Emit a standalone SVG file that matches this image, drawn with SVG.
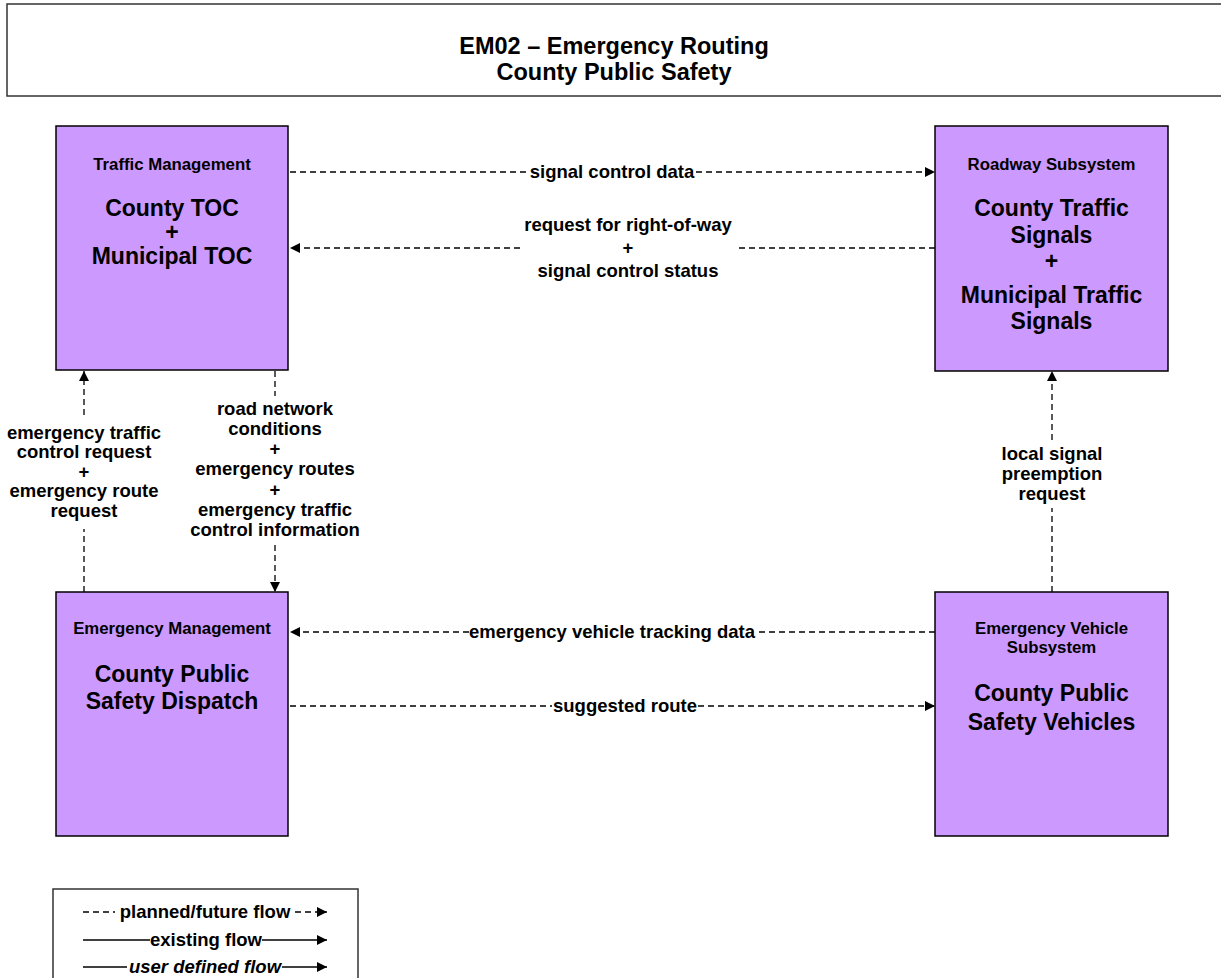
<svg xmlns="http://www.w3.org/2000/svg" width="1221" height="978" viewBox="0 0 1221 978">
  <defs>
    <marker id="arrow" viewBox="0 0 10 10" refX="10" refY="5" markerWidth="10" markerHeight="10" markerUnits="userSpaceOnUse" orient="auto">
      <path d="M0,0 L10,5 L0,10 Z" fill="#000"/>
    </marker>
    <style>
      .bg { fill: #fff; }
      .frame { fill: #fff; stroke: #333; stroke-width: 1.5; }
      .node { fill: #CC99FF; stroke: #000; stroke-width: 1.5; }
      text { font-family: "Liberation Sans", Arial, sans-serif; font-weight: bold; fill: #000; text-anchor: middle; }
      .title { font-size: 23.5px; }
      .kind { font-size: 16.8px; }
      .name { font-size: 23px; }
      .lbl { font-size: 18.5px; }
      .flow { fill: none; stroke: #000; stroke-width: 1.3; stroke-dasharray: 6 4; }
      .solid { fill: none; stroke: #000; stroke-width: 1.3; }
      .it { font-style: italic; }
    </style>
  </defs>

  <rect class="bg" x="0" y="0" width="1221" height="978"/>

  <!-- heading banner -->
  <g id="title">
    <rect class="frame" x="7" y="4" width="1220" height="92"/>
    <text class="title" x="614" y="54">EM02 – Emergency Routing</text>
    <text class="title" x="614" y="80">County Public Safety</text>
  </g>

  <!-- connectors -->
  <g id="connectors">
    <!-- signal control data -->
    <line class="flow" x1="290" y1="172" x2="528" y2="172"/>
    <line class="flow" x1="696" y1="172" x2="935" y2="172" marker-end="url(#arrow)"/>
    <text class="lbl" x="612" y="178">signal control data</text>

    <!-- request for right-of-way + signal control status -->
    <line class="flow" x1="935" y1="248" x2="735" y2="248"/>
    <line class="flow" x1="520" y1="248" x2="290" y2="248" marker-end="url(#arrow)"/>
    <text class="lbl" x="628" y="231">request for right-of-way</text>
    <text class="lbl" x="628" y="254">+</text>
    <text class="lbl" x="628" y="277">signal control status</text>

    <!-- dispatch to TOC requests -->
    <line class="flow" x1="84" y1="592" x2="84" y2="529"/>
    <line class="flow" x1="84" y1="415" x2="84" y2="371" marker-end="url(#arrow)"/>
    <text class="lbl" x="84" y="438.5">emergency traffic</text>
    <text class="lbl" x="84" y="458">control request</text>
    <text class="lbl" x="84" y="477.5">+</text>
    <text class="lbl" x="84" y="497">emergency route</text>
    <text class="lbl" x="84" y="516.5">request</text>

    <!-- TOC to dispatch information -->
    <line class="flow" x1="275" y1="371" x2="275" y2="396"/>
    <line class="flow" x1="275" y1="545" x2="275" y2="592" marker-end="url(#arrow)"/>
    <text class="lbl" x="275" y="414.5">road network</text>
    <text class="lbl" x="275" y="434.8">conditions</text>
    <text class="lbl" x="275" y="455.1">+</text>
    <text class="lbl" x="275" y="475.4">emergency routes</text>
    <text class="lbl" x="275" y="495.7">+</text>
    <text class="lbl" x="275" y="516">emergency traffic</text>
    <text class="lbl" x="275" y="536.3">control information</text>

    <!-- local signal preemption request -->
    <line class="flow" x1="1052" y1="592" x2="1052" y2="508"/>
    <line class="flow" x1="1052" y1="440" x2="1052" y2="371" marker-end="url(#arrow)"/>
    <text class="lbl" x="1052" y="459.5">local signal</text>
    <text class="lbl" x="1052" y="479.5">preemption</text>
    <text class="lbl" x="1052" y="499.5">request</text>

    <!-- emergency vehicle tracking data -->
    <line class="flow" x1="935" y1="632" x2="755" y2="632"/>
    <line class="flow" x1="469" y1="632" x2="290" y2="632" marker-end="url(#arrow)"/>
    <text class="lbl" x="612" y="638">emergency vehicle tracking data</text>

    <!-- suggested route -->
    <line class="flow" x1="290" y1="706" x2="552" y2="706"/>
    <line class="flow" x1="698" y1="706" x2="935" y2="706" marker-end="url(#arrow)"/>
    <text class="lbl" x="625" y="712">suggested route</text>
  </g>

  <g id="traffic-management">
    <rect class="node" x="56" y="126" width="232" height="244"/>
    <text class="kind" x="172" y="170">Traffic Management</text>
    <text class="name" x="172" y="216">County TOC</text>
    <text class="name" x="172" y="240">+</text>
    <text class="name" x="172" y="264">Municipal TOC</text>
  </g>

  <g id="roadway-subsystem">
    <rect class="node" x="935" y="126" width="233" height="245"/>
    <text class="kind" x="1051.5" y="170">Roadway Subsystem</text>
    <text class="name" x="1051.5" y="216">County Traffic</text>
    <text class="name" x="1051.5" y="243">Signals</text>
    <text class="name" x="1051.5" y="269">+</text>
    <text class="name" x="1051.5" y="303">Municipal Traffic</text>
    <text class="name" x="1051.5" y="329">Signals</text>
  </g>

  <g id="emergency-management">
    <rect class="node" x="56" y="592" width="232" height="244"/>
    <text class="kind" x="172" y="634">Emergency Management</text>
    <text class="name" x="172" y="682">County Public</text>
    <text class="name" x="172" y="709">Safety Dispatch</text>
  </g>

  <g id="emergency-vehicle-subsystem">
    <rect class="node" x="935" y="592" width="233" height="244"/>
    <text class="kind" x="1051.5" y="634">Emergency Vehicle</text>
    <text class="kind" x="1051.5" y="653">Subsystem</text>
    <text class="name" x="1051.5" y="701">County Public</text>
    <text class="name" x="1051.5" y="730">Safety Vehicles</text>
  </g>

  <!-- key of line styles -->
  <g id="legend">
    <rect class="frame" x="53" y="889" width="305" height="100" stroke="#000"/>
    <line class="flow" x1="83" y1="912" x2="115" y2="912"/>
    <line class="flow" x1="295" y1="912" x2="327" y2="912" marker-end="url(#arrow)"/>
    <text class="lbl" x="205" y="918">planned/future flow</text>
    <line class="solid" x1="83" y1="940" x2="150" y2="940"/>
    <line class="solid" x1="262" y1="940" x2="327" y2="940" marker-end="url(#arrow)"/>
    <text class="lbl" x="206" y="946">existing flow</text>
    <line class="solid" x1="83" y1="967" x2="127" y2="967"/>
    <line class="solid" x1="282" y1="967" x2="327" y2="967" marker-end="url(#arrow)"/>
    <text class="lbl it" x="205" y="973">user defined flow</text>
  </g>
</svg>
